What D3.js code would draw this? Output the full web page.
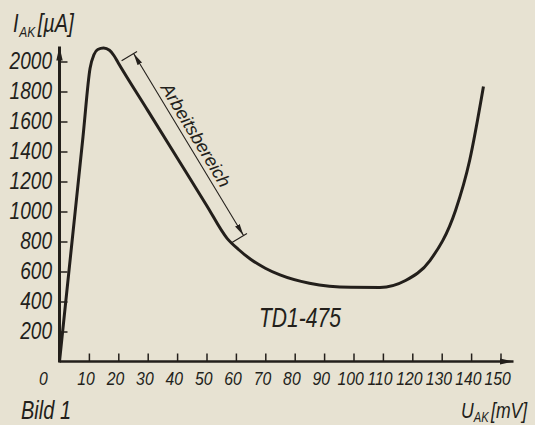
<!DOCTYPE html>
<html>
<head>
<meta charset="utf-8">
<script src="https://cdn.jsdelivr.net/npm/d3@7"></script>
<style>
  html, body { margin: 0; padding: 0; background: #e7e2d2; }
  svg { display: block; }
  text { font-family: "Liberation Sans", Arial, sans-serif; font-style: italic; fill: #231f1b; }
</style>
</head>
<body>
<svg id="chart" width="535" height="425"></svg>
<script>
// U_AK in mV and I_AK in µA
const uValues = [0, 4, 8, 10.4, 11.7, 13, 15, 17, 18.5, 20, 30, 40, 50, 57, 61, 65, 70, 75, 85, 99, 109, 117.7, 126, 134.7, 139.5, 144.2];
const iValues = [0, 750, 1500, 1955, 2045, 2080, 2090, 2075, 2040, 1990, 1674, 1358, 1042, 821, 745, 682, 622, 577, 522, 495, 494, 540, 673, 1007, 1340, 1833];

const xTicks = [10, 20, 30, 40, 50, 60, 70, 80, 90, 100, 110, 120, 130, 140, 150];
const yTicks = [200, 400, 600, 800, 1000, 1200, 1400, 1600, 1800, 2000];

// ends of the "Arbeitsbereich" dimension arrow (mV, µA)
const workStart = [25.2, 2053];
const workEnd = [62.6, 840];

const ink = '#231f1b';
const svg = d3.select('#chart');

const x = d3.scaleLinear().domain([0, 150]).range([59.5, 500.5]);
const y = d3.scaleLinear().domain([0, 2000]).range([361.5, 61.5]);

// the print uses a narrow DIN face, so squeeze text horizontally
function narrowText(px, py, size, k) {
  return svg.append('text')
    .attr('transform', `scale(${k},1)`)
    .attr('x', px / k).attr('y', py)
    .attr('font-size', size);
}

const defs = svg.append('defs');
defs.append('marker')
  .attr('id', 'axisArrow')
  .attr('viewBox', '0 -4 14 8')
  .attr('refX', 14).attr('refY', 0)
  .attr('markerUnits', 'userSpaceOnUse')
  .attr('markerWidth', 14).attr('markerHeight', 8)
  .attr('orient', 'auto')
  .append('path').attr('d', 'M0,-3.2L14,0L0,3.2Z').attr('fill', ink);
defs.append('marker')
  .attr('id', 'dimArrow')
  .attr('viewBox', '0 -3 12 6')
  .attr('refX', 12).attr('refY', 0)
  .attr('markerUnits', 'userSpaceOnUse')
  .attr('markerWidth', 12).attr('markerHeight', 6)
  .attr('orient', 'auto-start-reverse')
  .append('path').attr('d', 'M0,-2.6L12,0L0,2.6Z').attr('fill', ink);

// axes (ticks point into the plot)
const xAxis = d3.axisBottom(x).tickValues(xTicks).tickSizeInner(-8).tickSizeOuter(0).tickPadding(10)
  .tickFormat(d3.format('d'));
const yAxis = d3.axisLeft(y).tickValues(yTicks).tickSizeInner(-8).tickSizeOuter(0)
  .tickFormat(d3.format('d'));

const gx = svg.append('g').attr('transform', `translate(0,${y(0)})`).call(xAxis);
gx.select('.domain').remove();
gx.selectAll('.tick line').attr('stroke', ink).attr('stroke-width', 1.5);
gx.selectAll('.tick text')
  .attr('font-size', 19).attr('font-family', null).attr('fill', ink)
  .attr('transform', 'scale(0.83,1)').attr('dx', -4);

const gy = svg.append('g').attr('transform', `translate(${x(0)},0)`).call(yAxis);
gy.select('.domain').remove();
gy.selectAll('.tick line').attr('stroke', ink).attr('stroke-width', 1.5);
gy.selectAll('.tick text')
  .attr('font-size', 23).attr('font-family', null).attr('fill', ink)
  .attr('transform', 'scale(0.83,1)').attr('x', -7.5 / 0.83);

// axis lines with arrow heads
svg.append('line')
  .attr('x1', x(0)).attr('y1', y(0)).attr('x2', x(150) + 13).attr('y2', y(0))
  .attr('stroke', ink).attr('stroke-width', 2.6)
  .attr('marker-end', 'url(#axisArrow)');
svg.append('line')
  .attr('x1', x(0)).attr('y1', y(0) + 1).attr('x2', x(0)).attr('y2', y(2000) - 15)
  .attr('stroke', ink).attr('stroke-width', 3)
  .attr('marker-end', 'url(#axisArrow)');

narrowText(x(0) - 16, y(0) + 23.5, 19, 0.83).attr('text-anchor', 'middle').text('0');

// characteristic curve
const curveData = uValues.map((u, i) => [u, iValues[i]]);
svg.append('path')
  .datum(curveData)
  .attr('fill', 'none')
  .attr('stroke', ink)
  .attr('stroke-width', 3)
  .attr('stroke-linejoin', 'round')
  .attr('d', d3.line().x((d) => x(d[0])).y((d) => y(d[1])).curve(d3.curveMonotoneX));

// Arbeitsbereich dimension line
const ax = x(workStart[0]), ay = y(workStart[1]);
const bx = x(workEnd[0]), by = y(workEnd[1]);
const len = Math.hypot(bx - ax, by - ay);
const ux = (bx - ax) / len, uy = (by - ay) / len;
const px = uy, py = -ux; // perpendicular, pointing up-right
const angle = Math.atan2(by - ay, bx - ax) * 180 / Math.PI;

svg.append('line')
  .attr('x1', ax).attr('y1', ay).attr('x2', bx).attr('y2', by)
  .attr('stroke', ink).attr('stroke-width', 1.1)
  .attr('marker-start', 'url(#dimArrow)')
  .attr('marker-end', 'url(#dimArrow)');
[[ax, ay], [bx, by]].forEach(([cx, cy]) => {
  svg.append('line')
    .attr('x1', cx - px * 14).attr('y1', cy - py * 14)
    .attr('x2', cx + px * 4).attr('y2', cy + py * 4)
    .attr('stroke', ink).attr('stroke-width', 1.1);
});

const mx = ax + ux * len * 0.48, my = ay + uy * len * 0.48;
svg.append('text')
  .attr('transform', `translate(${mx},${my}) rotate(${angle})`)
  .attr('y', -5)
  .attr('text-anchor', 'middle')
  .attr('font-size', 18)
  .attr('textLength', 118)
  .attr('lengthAdjust', 'spacingAndGlyphs')
  .text('Arbeitsbereich');

// labels
narrowText(259, 327, 27, 0.78).text('TD1-475');

const yTitle = narrowText(13, 32, 25, 0.8);
yTitle.append('tspan').text('I');
yTitle.append('tspan').attr('font-size', 15).attr('dy', 5).attr('dx', 1).text('AK');
yTitle.append('tspan').attr('dy', -5).attr('dx', 3).text('[µA]');

narrowText(21, 419, 25, 0.8).text('Bild 1');

const xTitle = narrowText(461, 418, 22, 0.8);
xTitle.append('tspan').text('U');
xTitle.append('tspan').attr('font-size', 14).attr('dy', 4).text('AK');
xTitle.append('tspan').attr('dy', -4).attr('dx', 3).text('[mV]');
</script>
</body>
</html>
